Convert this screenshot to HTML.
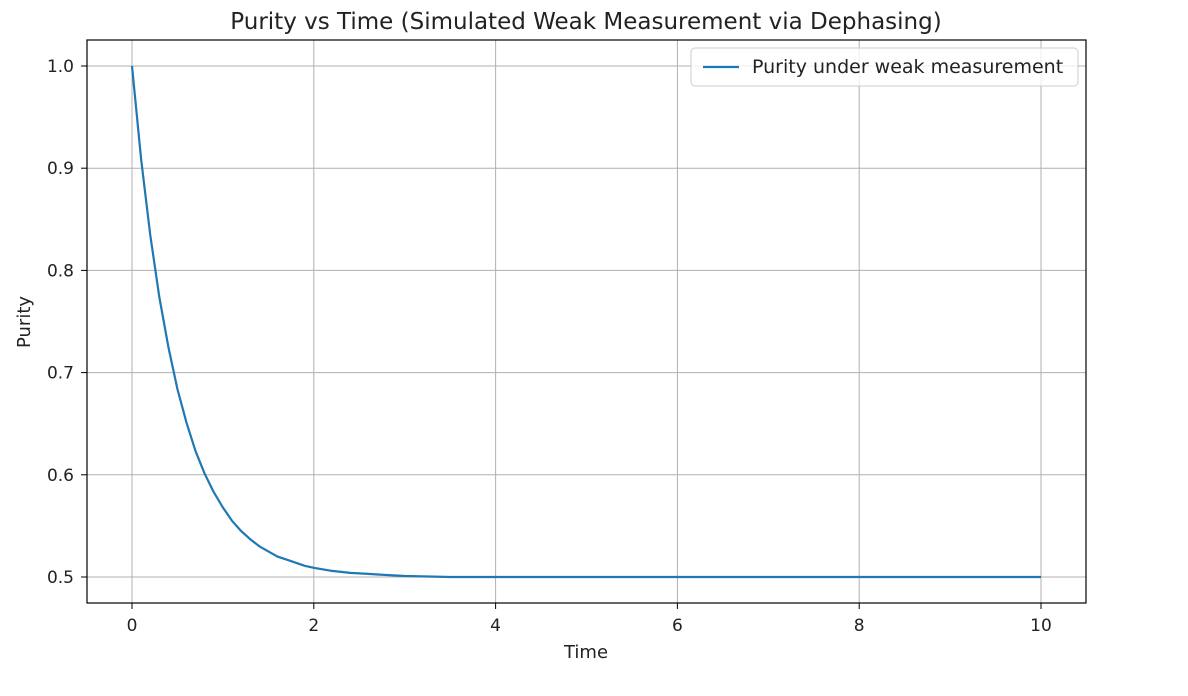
<!DOCTYPE html>
<html><head><meta charset="utf-8"><style>
body{margin:0;background:#fff;width:1188px;height:691px;overflow:hidden}
svg{font-family:"DejaVu Sans","Liberation Sans",sans-serif}
</style></head><body>
<svg id="chart" width="1188" height="691">
<text x="586" y="29" font-size="23" text-anchor="middle" fill="#222">Purity vs Time (Simulated Weak Measurement via Dephasing)</text>
<g id="grid"></g>
<g id="ticks"></g>
<path id="line" fill="none" stroke="#1f77b4" stroke-width="2.2" stroke-linejoin="round"/>
<rect x="87" y="40" width="999" height="563" fill="none" stroke="#000" stroke-width="1.2"/>
<text x="586" y="658" font-size="18" text-anchor="middle" fill="#222">Time</text>
<text x="30" y="322" font-size="18" text-anchor="middle" fill="#222" transform="rotate(-90 30 322)">Purity</text>
<g>
<rect x="691" y="48" width="387" height="38" rx="4" fill="#fff" fill-opacity="0.8" stroke="#ccc"/>
<line x1="703" y1="67" x2="739" y2="67" stroke="#1f77b4" stroke-width="2.2"/>
<text x="752" y="73" font-size="19" fill="#222">Purity under weak measurement</text>
</g>
</svg>
<script>
const times=[0,0.1,0.2,0.3,0.4,0.5,0.6,0.7,0.8,0.9,1.0,1.1,1.2,1.3,1.4,1.5,1.6,1.7,1.8,1.9,2.0,2.2,2.4,2.6,2.8,3.0,3.5,4,6,8,10];
const purity=[1.0,0.909,0.835,0.774,0.725,0.684,0.651,0.623,0.601,0.583,0.568,0.555,0.545,0.537,0.530,0.525,0.520,0.517,0.514,0.511,0.509,0.506,0.504,0.503,0.502,0.501,0.500,0.5,0.5,0.5,0.5];
const xTicks=[0,2,4,6,8,10];
const yTicks=[0.5,0.6,0.7,0.8,0.9,1.0];
const yTickLabels=["0.5","0.6","0.7","0.8","0.9","1.0"];
function sx(v){return 132+(v-0)*(1041-132)/10;}
function sy(v){return 577-(v-0.5)*(577-66)/0.5;}
const NS="http://www.w3.org/2000/svg";
const grid=document.getElementById('grid'),ticks=document.getElementById('ticks');
function mk(tag,attrs,parent){const e=document.createElementNS(NS,tag);for(const k in attrs)e.setAttribute(k,attrs[k]);parent.appendChild(e);return e;}
xTicks.forEach(t=>{
 const g=mk('line',{x1:sx(t),x2:sx(t),y1:40,y2:603,stroke:'#b0b0b0','stroke-width':1},grid);
 
 
 const tk=mk('line',{x1:sx(t),x2:sx(t),y1:603,y2:609,stroke:'#000'},ticks);
 
 
 const tx=mk('text',{x:sx(t),y:631,'font-size':17,'text-anchor':'middle',fill:'#222'},ticks);
 tx.textContent=String(t);
 
 
});
yTicks.forEach((v,i)=>{
 const g=mk('line',{x1:87,x2:1086,y1:sy(v),y2:sy(v),stroke:'#b0b0b0','stroke-width':1},grid);
 
 
 const tk=mk('line',{x1:81,x2:87,y1:sy(v),y2:sy(v),stroke:'#000'},ticks);
 
 
 const tx=mk('text',{x:74,y:sy(v)+6,'font-size':17,'text-anchor':'end',fill:'#222'},ticks);
 tx.textContent=yTickLabels[i];
 
 
});
document.getElementById('line').setAttribute('d',times.map((t,i)=>(i?'L':'M')+sx(t).toFixed(1)+','+sy(purity[i]).toFixed(1)).join(''));
</script>
</body></html>
